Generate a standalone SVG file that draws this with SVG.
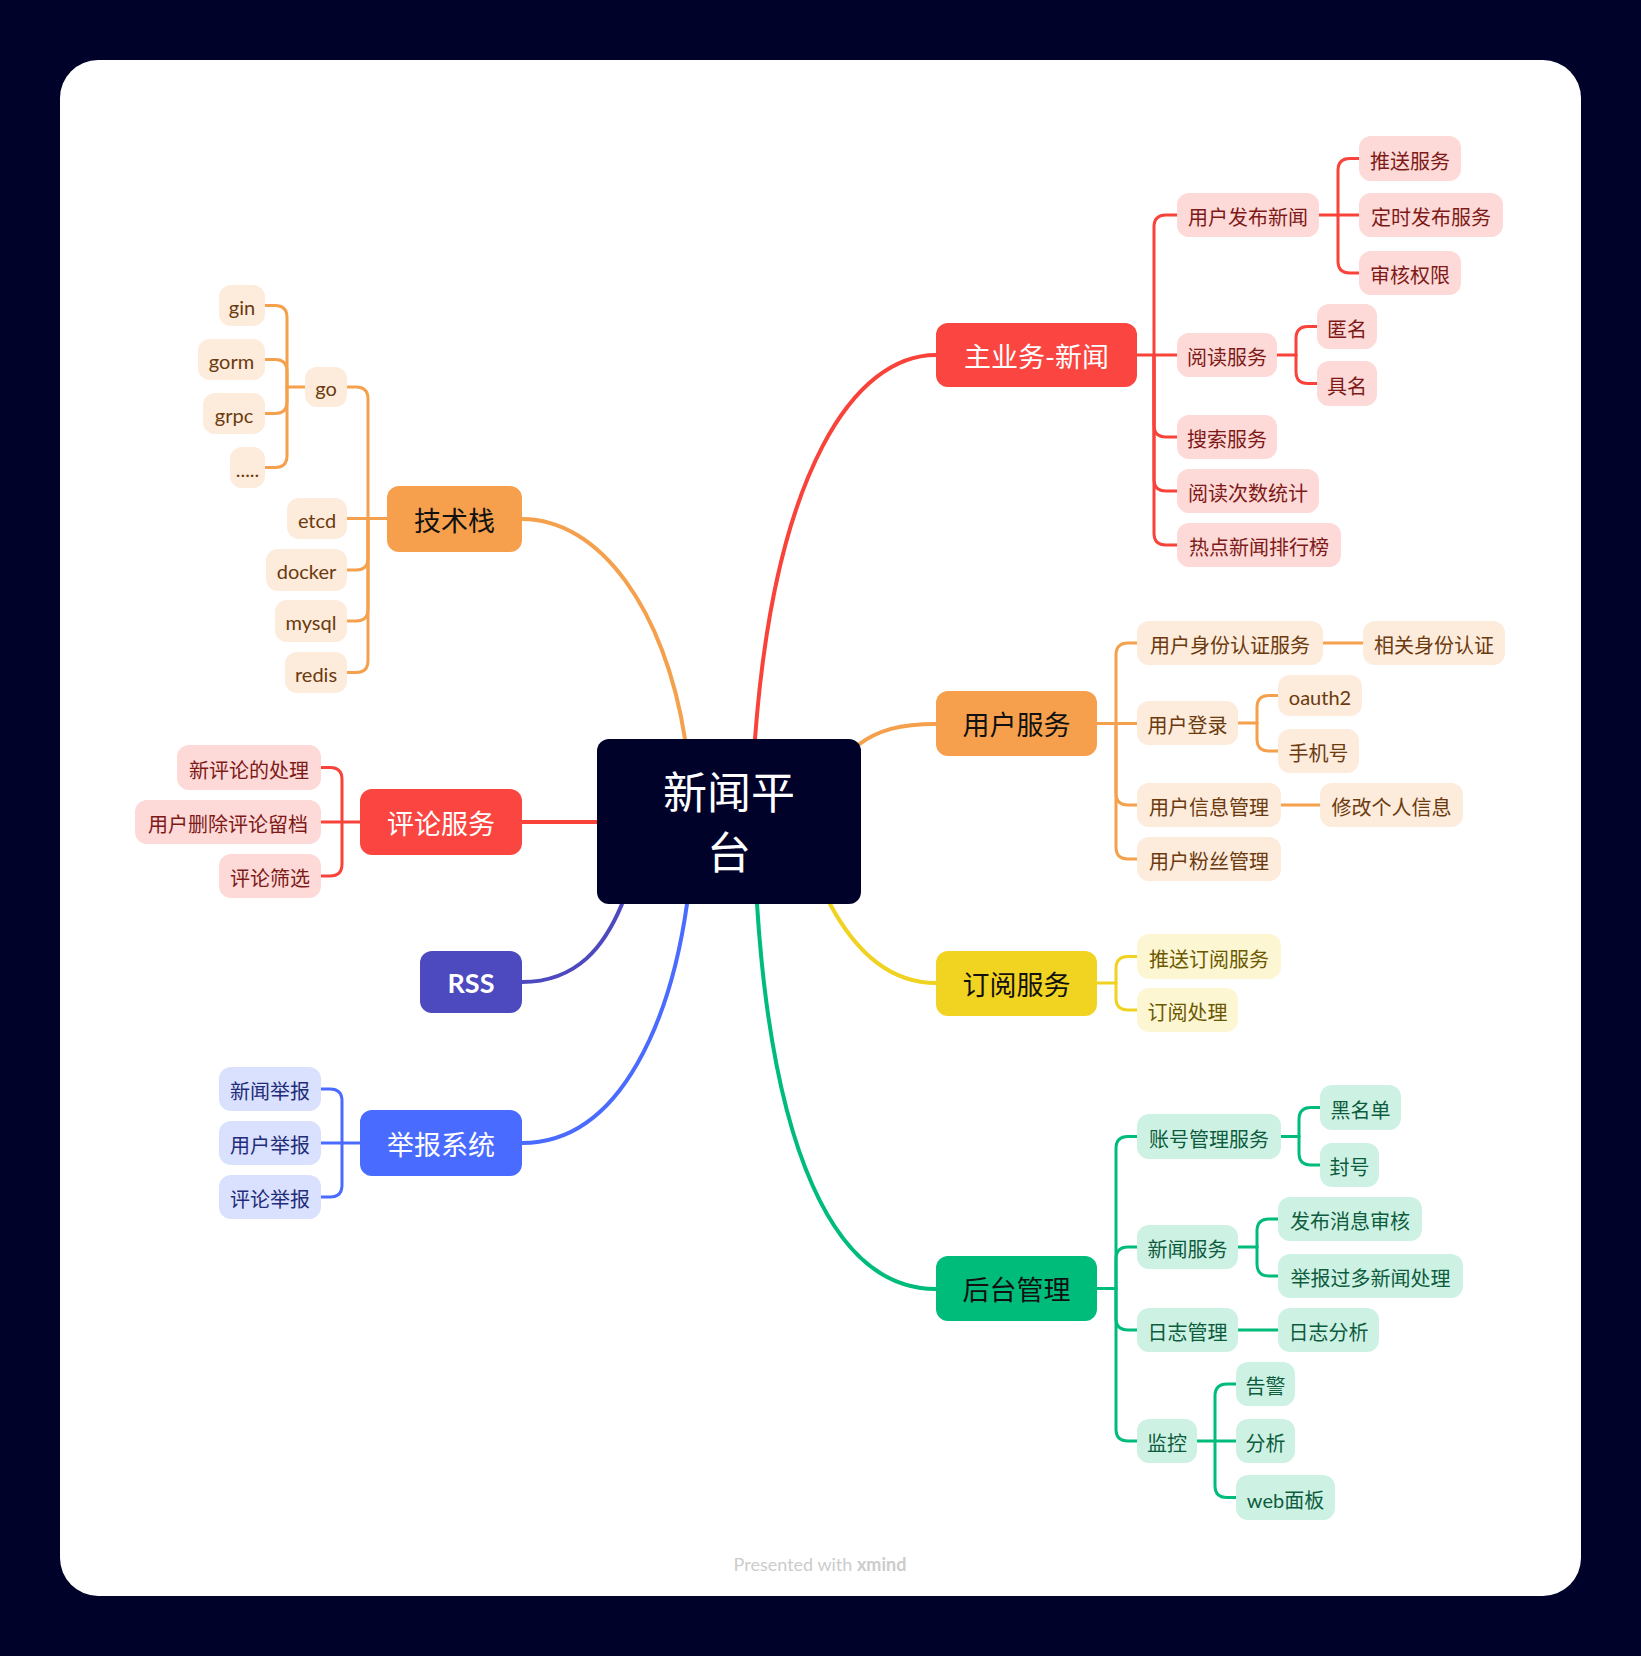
<svg xmlns="http://www.w3.org/2000/svg" width="1641" height="1656" viewBox="0 0 1641 1656">
<style>
text{font-family:"Lato","Noto Sans CJK SC",sans-serif;text-anchor:middle}
.l{font-size:20px}
.m{font-size:27px}
.c path{fill:none;stroke-linecap:round}
.main{stroke-width:4}
.sub{stroke-width:3}
.sr{stroke:#F9423A}.so{stroke:#F5A04D}.sy{stroke:#F0D320}.sg{stroke:#00BC7B}.sb{stroke:#4A6BFF}.sp{stroke:#4D49BE}
.lr rect{fill:#FDD9D7}.lr text{fill:#7D1A17}
.lo rect{fill:#FDEBDC}.lo text{fill:#6B3A0E}
.ly rect{fill:#FDF6D3}.ly text{fill:#6B5800}
.lg rect{fill:#CDF2E4}.lg text{fill:#0E5C3E}
.lb rect{fill:#DAE1FE}.lb text{fill:#1F2D7A}
</style>
<rect width="1641" height="1656" fill="#00022A"/>
<rect x="60" y="60" width="1521" height="1536" rx="38" fill="#FFFFFF"/>
<g id="connectors" class="c">
<path class="main so" d="M522,519 C600,519 665,610 685,739"/>
<path class="main sr" d="M936,355 C855,355 775,470 755,739"/>
<path class="main so" d="M936,724 C900,724 878,730 858,745"/>
<path class="main sr" d="M522,822 H597"/>
<path class="main sp" d="M522,982 C578,982 605,945 622,904"/>
<path class="main sb" d="M522,1143 C625,1143 672,1010 687,904"/>
<path class="main sg" d="M936,1289 C830,1289 772,1140 757,904"/>
<path class="main sy" d="M936,983 C885,983 852,945 830,904"/>
<g class="sr">
<path class="sub" d="M1137,355 H1177"/>
<path class="sub" d="M1154,355 V227 Q1154,215 1166,215 H1177"/>
<path class="sub" d="M1154,355 V425 Q1154,437 1166,437 H1177"/>
<path class="sub" d="M1154,355 V479 Q1154,491 1166,491 H1177"/>
<path class="sub" d="M1154,355 V533 Q1154,545 1166,545 H1177"/>
<path class="sub" d="M1319,215 H1359"/>
<path class="sub" d="M1338,215 V170.5 Q1338,158.5 1350,158.5 H1359"/>
<path class="sub" d="M1338,215 V261 Q1338,273 1350,273 H1359"/>
<path class="sub" d="M1277,355 H1296"/>
<path class="sub" d="M1296,355 V338.5 Q1296,326.5 1308,326.5 H1317"/>
<path class="sub" d="M1296,355 V371.5 Q1296,383.5 1308,383.5 H1317"/>
<path class="sub" d="M360,822 H321"/>
<path class="sub" d="M342,822 V779.5 Q342,767.5 330,767.5 H321"/>
<path class="sub" d="M342,822 V864 Q342,876 330,876 H321"/>
</g>
<g class="so">
<path class="sub" d="M1097,723.5 H1137"/>
<path class="sub" d="M1116,723 V655 Q1116,643 1128,643 H1137"/>
<path class="sub" d="M1116,723 V793 Q1116,805 1128,805 H1137"/>
<path class="sub" d="M1116,723 V847 Q1116,859 1128,859 H1137"/>
<path class="sub" d="M1323,643 H1363"/>
<path class="sub" d="M1238,723 H1257"/>
<path class="sub" d="M1257,723 V707.5 Q1257,695.5 1269,695.5 H1278"/>
<path class="sub" d="M1257,723 V739 Q1257,751 1269,751 H1278"/>
<path class="sub" d="M1281,805 H1320"/>
<path class="sub" d="M387,518.5 H347"/>
<path class="sub" d="M368,518.5 V399 Q368,387 356,387 H347"/>
<path class="sub" d="M368,518 V558 Q368,570 356,570 H347"/>
<path class="sub" d="M368,518 V609 Q368,621 356,621 H347"/>
<path class="sub" d="M368,518 V660.5 Q368,672.5 356,672.5 H347"/>
<path class="sub" d="M305,387 H287"/>
<path class="sub" d="M287,387 V317.5 Q287,305.5 275,305.5 H265"/>
<path class="sub" d="M287,387 V371.5 Q287,359.5 275,359.5 H265"/>
<path class="sub" d="M287,387 V401.5 Q287,413.5 275,413.5 H265"/>
<path class="sub" d="M287,387 V455.5 Q287,467.5 275,467.5 H265"/>
</g>
<g class="sy">
<path class="sub" d="M1097,983 H1116"/>
<path class="sub" d="M1116,983 V968.5 Q1116,956.5 1128,956.5 H1137"/>
<path class="sub" d="M1116,983 V998 Q1116,1010 1128,1010 H1137"/>
</g>
<g class="sg">
<path class="sub" d="M1097,1288.5 H1116"/>
<path class="sub" d="M1116,1288 V1148.5 Q1116,1136.5 1128,1136.5 H1137"/>
<path class="sub" d="M1116,1288 V1259 Q1116,1247 1128,1247 H1137"/>
<path class="sub" d="M1116,1288 V1318 Q1116,1330 1128,1330 H1137"/>
<path class="sub" d="M1116,1288 V1429 Q1116,1441 1128,1441 H1137"/>
<path class="sub" d="M1281,1136.5 H1299"/>
<path class="sub" d="M1299,1136.5 V1119.5 Q1299,1107.5 1311,1107.5 H1320"/>
<path class="sub" d="M1299,1136.5 V1153 Q1299,1165 1311,1165 H1320"/>
<path class="sub" d="M1238,1247 H1257"/>
<path class="sub" d="M1257,1247 V1231 Q1257,1219 1269,1219 H1278"/>
<path class="sub" d="M1257,1247 V1264 Q1257,1276 1269,1276 H1278"/>
<path class="sub" d="M1238,1330 H1278"/>
<path class="sub" d="M1197,1441 H1236"/>
<path class="sub" d="M1215,1441 V1396 Q1215,1384 1227,1384 H1236"/>
<path class="sub" d="M1215,1441 V1485.5 Q1215,1497.5 1227,1497.5 H1236"/>
</g>
<g class="sb">
<path class="sub" d="M360,1143 H321"/>
<path class="sub" d="M342,1143 V1101 Q342,1089 330,1089 H321"/>
<path class="sub" d="M342,1143 V1185 Q342,1197 330,1197 H321"/>
</g>
</g>

<g id="center"><rect x="597" y="739" width="264" height="165" rx="12" fill="#00022A"/><text x="729" y="809" font-size="44" fill="#FFFFFF">新闻平</text><text x="729" y="869" font-size="44" fill="#FFFFFF">台</text></g>

<g id="t-news"><rect x="936" y="323" width="201" height="64" rx="12" fill="#FA4540"/><text class="m" x="1036.5" y="367" fill="#FFFFFF">主业务-新闻</text></g>
<g id="t-tech"><rect x="387" y="486" width="135" height="66" rx="12" fill="#F6A04D"/><text class="m" x="454.5" y="531" fill="#111111">技术栈</text></g>
<g id="t-user"><rect x="936" y="691" width="161" height="65" rx="12" fill="#F6A04D"/><text class="m" x="1016.5" y="735" fill="#111111">用户服务</text></g>
<g id="t-sub"><rect x="936" y="951" width="161" height="65" rx="12" fill="#F1D321"/><text class="m" x="1016.5" y="995" fill="#111111">订阅服务</text></g>
<g id="t-admin"><rect x="936" y="1256" width="161" height="65" rx="12" fill="#00BC7B"/><text class="m" x="1016.5" y="1300" fill="#111111">后台管理</text></g>
<g id="t-comment"><rect x="360" y="789" width="162" height="66" rx="12" fill="#FA4540"/><text class="m" x="441" y="834" fill="#FFFFFF">评论服务</text></g>
<g id="t-rss"><rect x="420" y="951" width="102" height="62" rx="12" fill="#4D49BE"/><text class="m" x="471" y="993" fill="#FFFFFF" font-weight="bold">RSS</text></g>
<g id="t-report"><rect x="360" y="1110" width="162" height="66" rx="12" fill="#4A6BFF"/><text class="m" x="441" y="1155" fill="#FFFFFF">举报系统</text></g>

<g class="lr">
<g id="n-pubnews"><rect x="1177" y="193" width="142" height="44" rx="12"/><text class="l" x="1248" y="225">用户发布新闻</text></g>
<g id="n-push"><rect x="1359" y="136" width="102" height="45" rx="12"/><text class="l" x="1410" y="168.5">推送服务</text></g>
<g id="n-timed"><rect x="1359" y="193" width="144" height="44" rx="12"/><text class="l" x="1431" y="225">定时发布服务</text></g>
<g id="n-audit"><rect x="1359" y="251" width="102" height="44" rx="12"/><text class="l" x="1410" y="283">审核权限</text></g>
<g id="n-read"><rect x="1177" y="333" width="100" height="44" rx="12"/><text class="l" x="1227" y="365">阅读服务</text></g>
<g id="n-anon"><rect x="1317" y="304" width="60" height="45" rx="12"/><text class="l" x="1347" y="336.5">匿名</text></g>
<g id="n-named"><rect x="1317" y="361" width="60" height="45" rx="12"/><text class="l" x="1347" y="393.5">具名</text></g>
<g id="n-search"><rect x="1177" y="415" width="100" height="44" rx="12"/><text class="l" x="1227" y="447">搜索服务</text></g>
<g id="n-count"><rect x="1177" y="469" width="142" height="44" rx="12"/><text class="l" x="1248" y="501">阅读次数统计</text></g>
<g id="n-hot"><rect x="1177" y="523" width="164" height="44" rx="12"/><text class="l" x="1259" y="555">热点新闻排行榜</text></g>
<g id="n-newc"><rect x="177" y="745" width="144" height="45" rx="12"/><text class="l" x="249" y="777.5">新评论的处理</text></g>
<g id="n-delc"><rect x="135" y="800" width="186" height="44" rx="12"/><text class="l" x="228" y="832">用户删除评论留档</text></g>
<g id="n-filter"><rect x="219" y="854" width="102" height="44" rx="12"/><text class="l" x="270" y="886">评论筛选</text></g>
</g>

<g class="lo">
<g id="n-go"><rect x="305" y="367" width="42" height="40" rx="12"/><text class="l" x="326" y="396">go</text></g>
<g id="n-gin"><rect x="219" y="285" width="46" height="41" rx="12"/><text class="l" x="242" y="314.5">gin</text></g>
<g id="n-gorm"><rect x="198" y="339" width="67" height="41" rx="12"/><text class="l" x="231.5" y="368.5">gorm</text></g>
<g id="n-grpc"><rect x="203" y="393" width="62" height="41" rx="12"/><text class="l" x="234" y="422.5">grpc</text></g>
<g id="n-dots"><rect x="230" y="447" width="35" height="41" rx="12"/><text class="l" x="247.5" y="476.5" font-size="12">.....</text></g>
<g id="n-etcd"><rect x="287" y="498" width="60" height="41" rx="12"/><text class="l" x="317" y="527.5">etcd</text></g>
<g id="n-docker"><rect x="266" y="549" width="81" height="42" rx="12"/><text class="l" x="306.5" y="579">docker</text></g>
<g id="n-mysql"><rect x="275" y="600" width="72" height="42" rx="12"/><text class="l" x="311" y="630">mysql</text></g>
<g id="n-redis"><rect x="285" y="652" width="62" height="41" rx="12"/><text class="l" x="316" y="681.5">redis</text></g>
<g id="n-auth"><rect x="1137" y="621" width="186" height="44" rx="12"/><text class="l" x="1230" y="653">用户身份认证服务</text></g>
<g id="n-relauth"><rect x="1363" y="621" width="142" height="44" rx="12"/><text class="l" x="1434" y="653">相关身份认证</text></g>
<g id="n-login"><rect x="1137" y="701" width="101" height="44" rx="12"/><text class="l" x="1187.5" y="733">用户登录</text></g>
<g id="n-oauth"><rect x="1278" y="675" width="84" height="41" rx="12"/><text class="l" x="1320" y="704.5">oauth2</text></g>
<g id="n-phone"><rect x="1278" y="729" width="81" height="44" rx="12"/><text class="l" x="1318.5" y="761">手机号</text></g>
<g id="n-info"><rect x="1137" y="783" width="144" height="44" rx="12"/><text class="l" x="1209" y="815">用户信息管理</text></g>
<g id="n-modify"><rect x="1320" y="783" width="143" height="44" rx="12"/><text class="l" x="1391.5" y="815">修改个人信息</text></g>
<g id="n-fans"><rect x="1137" y="837" width="144" height="44" rx="12"/><text class="l" x="1209" y="869">用户粉丝管理</text></g>
</g>

<g class="ly">
<g id="n-pushsub"><rect x="1137" y="934" width="144" height="45" rx="12"/><text class="l" x="1209" y="966.5">推送订阅服务</text></g>
<g id="n-subproc"><rect x="1137" y="988" width="101" height="44" rx="12"/><text class="l" x="1187.5" y="1020">订阅处理</text></g>
</g>

<g class="lg">
<g id="n-account"><rect x="1137" y="1114" width="144" height="45" rx="12"/><text class="l" x="1209" y="1146.5">账号管理服务</text></g>
<g id="n-black"><rect x="1320" y="1085" width="81" height="45" rx="12"/><text class="l" x="1360.5" y="1117.5">黑名单</text></g>
<g id="n-ban"><rect x="1320" y="1143" width="59" height="44" rx="12"/><text class="l" x="1349.5" y="1175">封号</text></g>
<g id="n-newssvc"><rect x="1137" y="1225" width="101" height="44" rx="12"/><text class="l" x="1187.5" y="1257">新闻服务</text></g>
<g id="n-msgaudit"><rect x="1278" y="1197" width="144" height="44" rx="12"/><text class="l" x="1350" y="1229">发布消息审核</text></g>
<g id="n-toomany"><rect x="1278" y="1254" width="185" height="44" rx="12"/><text class="l" x="1370.5" y="1286">举报过多新闻处理</text></g>
<g id="n-log"><rect x="1137" y="1308" width="101" height="44" rx="12"/><text class="l" x="1187.5" y="1340">日志管理</text></g>
<g id="n-loga"><rect x="1278" y="1308" width="101" height="44" rx="12"/><text class="l" x="1328.5" y="1340">日志分析</text></g>
<g id="n-mon"><rect x="1137" y="1419" width="60" height="44" rx="12"/><text class="l" x="1167" y="1451">监控</text></g>
<g id="n-alarm"><rect x="1236" y="1362" width="59" height="44" rx="12"/><text class="l" x="1265.5" y="1394">告警</text></g>
<g id="n-anal"><rect x="1236" y="1419" width="59" height="44" rx="12"/><text class="l" x="1265.5" y="1451">分析</text></g>
<g id="n-web"><rect x="1236" y="1475" width="99" height="45" rx="12"/><text class="l" x="1285.5" y="1507.5">web面板</text></g>
</g>

<g class="lb">
<g id="n-rnews"><rect x="219" y="1067" width="102" height="44" rx="12"/><text class="l" x="270" y="1099">新闻举报</text></g>
<g id="n-ruser"><rect x="219" y="1121" width="102" height="44" rx="12"/><text class="l" x="270" y="1153">用户举报</text></g>
<g id="n-rcomm"><rect x="219" y="1175" width="102" height="44" rx="12"/><text class="l" x="270" y="1207">评论举报</text></g>
</g>

<text x="820" y="1571" font-size="18" fill="#CCCCCC">Presented with <tspan font-weight="bold">xmind</tspan></text>
</svg>
